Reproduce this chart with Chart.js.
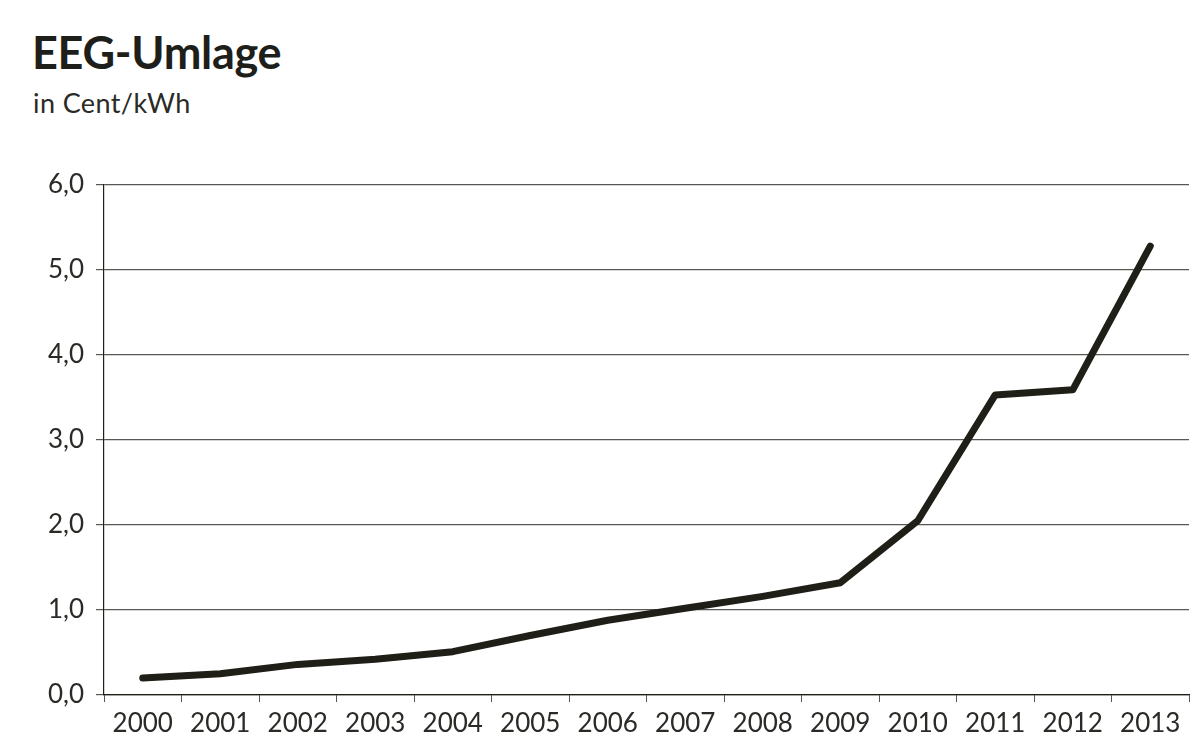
<!DOCTYPE html>
<html>
<head>
<meta charset="utf-8">
<script src="https://cdn.jsdelivr.net/npm/chart.js@4"></script>
<style>
  html, body { margin: 0; padding: 0; background: #fff; }
  #wrap { position: relative; width: 1196px; height: 751px; overflow: hidden; }
  #title { position: absolute; left: 32px; top: 25px; font: bold 45px Lato, sans-serif; color: #1e1e1a; letter-spacing: -0.3px; }
  #subtitle { position: absolute; left: 33px; top: 86px; font: 27px Lato, sans-serif; color: #2a2a26; letter-spacing: 0.4px; }
  canvas { position: absolute; left: 0; top: 0; }
</style>
</head>
<body>
<div id="wrap">
  <div id="title">EEG-Umlage</div>
  <div id="subtitle">in Cent/kWh</div>
  <canvas id="chart" width="1196" height="751"></canvas>
</div>
<script>
// EEG-Umlage, cent per kWh
const years = ['2000', '2001', '2002', '2003', '2004', '2005', '2006', '2007', '2008', '2009', '2010', '2011', '2012', '2013'];
const umlage = [0.20, 0.25, 0.36, 0.42, 0.51, 0.70, 0.88, 1.02, 1.16, 1.32, 2.05, 3.53, 3.59, 5.28];
const yTicks = [0, 1, 2, 3, 4, 5, 6];

const ink = '#1f1e17';
const gridColor = 'rgba(45,45,40,0.8)';

(function() {
  const ctx = document.getElementById('chart').getContext('2d');

  new Chart(ctx, {
    type: 'line',
    data: {
      labels: years,
      datasets: [{
        label: 'EEG-Umlage',
        data: umlage,
        borderColor: ink,
        backgroundColor: 'transparent',
        borderWidth: 7,
        borderCapStyle: 'round',
        borderJoinStyle: 'round',
        pointRadius: 0,
        tension: 0
      }]
    },
    options: {
      responsive: false,
      animation: false,
      layout: { padding: { left: 0, right: 7, top: 185, bottom: 0 } },
      plugins: {
        legend: { display: false },
        tooltip: { enabled: false }
      },
      scales: {
        x: {
          offset: true,
          grid: { offset: true, drawOnChartArea: false, drawTicks: true, tickLength: 7, color: gridColor, lineWidth: 1 },
          border: { display: true, color: ink, width: 1.2 },
          ticks: { color: '#2a2a26', font: { family: 'Lato', size: 26 }, padding: 6, maxRotation: 0, autoSkip: false },
          afterFit: scale => { scale.height = 56; }
        },
        y: {
          min: 0,
          max: 6,
          afterBuildTicks: scale => { scale.ticks = yTicks.map(v => ({ value: v })); },
          grid: { color: gridColor, lineWidth: 1.2, tickLength: 8 },
          border: { display: true, color: ink, width: 1.2 },
          ticks: {
            color: '#2a2a26',
            font: { family: 'Lato', size: 26 },
            padding: 12,
            callback: v => v.toFixed(1).replace('.', ',')
          },
          afterFit: scale => { scale.width = 104; }
        }
      }
    }
  });
})();
</script>
</body>
</html>
